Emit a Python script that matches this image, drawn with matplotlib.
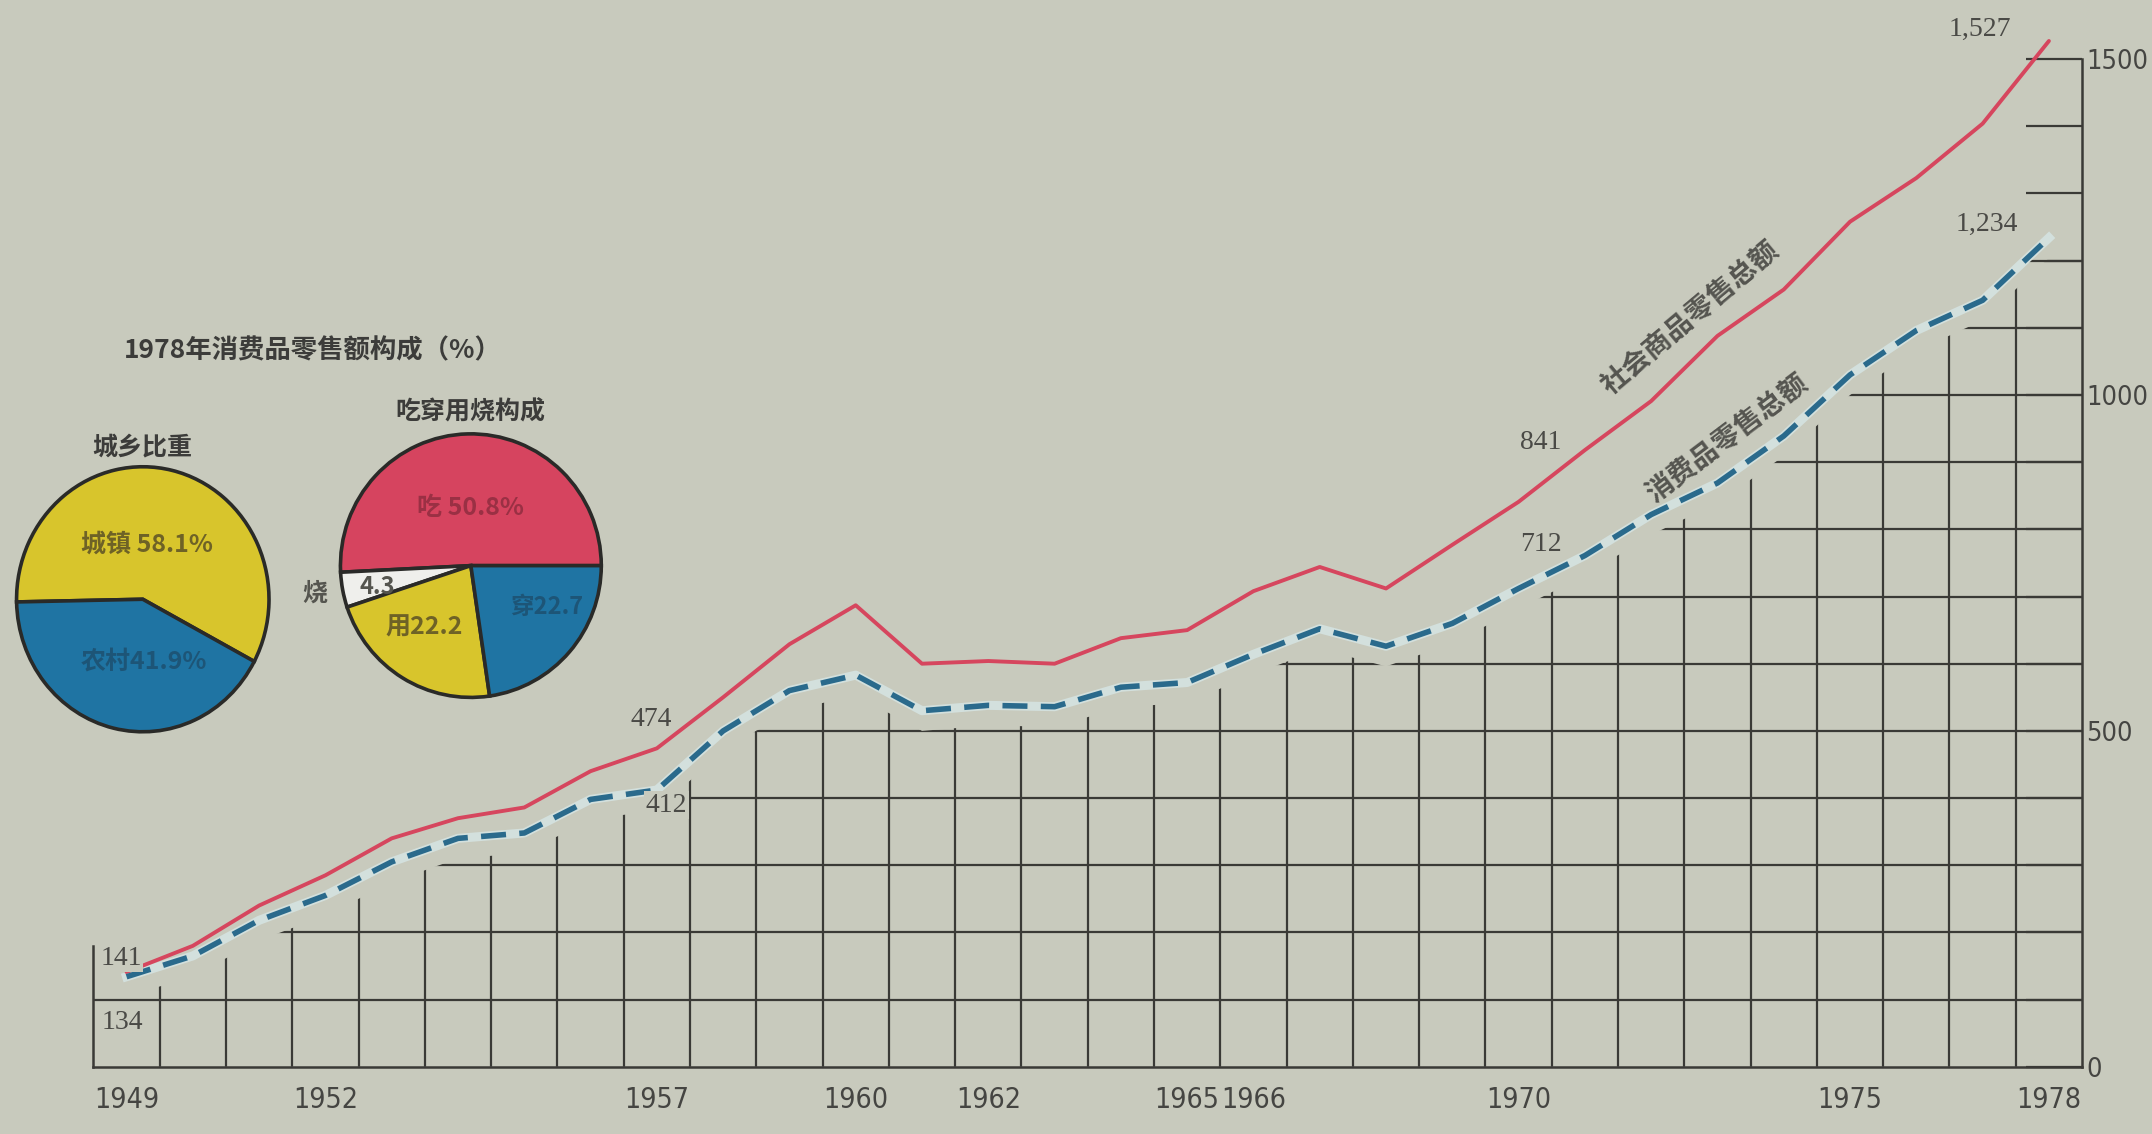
import numpy as np
import matplotlib
matplotlib.use('Agg')
import matplotlib.pyplot as plt
from matplotlib.patches import Polygon

# retail sales, 1949-1978 (100 million yuan)
years = np.arange(1949, 1979)
total_retail = np.array([141, 180, 240, 285, 340, 370, 386, 440, 474, 550,
                         629, 687, 600, 604, 600, 638, 650, 708, 744, 712,
                         777, 841, 918, 991, 1088, 1157, 1258, 1323, 1404, 1527])
consumer_retail = np.array([134, 165, 218, 255, 305, 340, 348, 398, 412, 500,
                            560, 583, 530, 538, 536, 565, 572, 614, 652, 626,
                            660, 712, 761, 822, 869, 939, 1030, 1096, 1141, 1234])

year_labels = [1949, 1952, 1957, 1960, 1962, 1965, 1966, 1970, 1975, 1978]
value_labels = [0, 500, 1000, 1500]

marked_years = [1949, 1957, 1970, 1978]
total_marks = ['141', '474', '841', '1,527']
consumer_marks = ['134', '412', '712', '1,234']

# 1978 structure (%)
city_names = ['城镇', '农村']
city_share = [58.1, 41.9]
use_names = ['吃', '烧', '用', '穿']
use_share = [50.8, 4.3, 22.2, 22.7]

BG = '#c8cabd'
INK = '#3a3a36'
RED = '#d6465e'
BLUE = '#2a6a8c'
CJK = ['Noto Sans CJK SC', 'DejaVu Sans']
NUM = ['DejaVu Sans']
SERIF = ['Liberation Serif', 'DejaVu Serif']

fig = plt.figure(figsize=(21.52, 11.34), dpi=100, facecolor=BG)
ax = fig.add_axes([0.0434, 0.0593, 0.9241, 0.9241])
ax.set_facecolor('none')
ax.set_xlim(1948.5, 1978.5)
ax.set_ylim(0, 1560)

# grid only below the consumer-goods curve
gap = 30
clip_x = np.concatenate([[1948.5], years, [1978.5, 1978.5, 1948.5]])
clip_y = np.concatenate([[consumer_retail[0] - gap], consumer_retail - gap,
                         [consumer_retail[-1] - gap, 0, 0]])
clip = Polygon(np.column_stack([clip_x, clip_y]), closed=True, transform=ax.transData)
vl = ax.vlines(years[1:] - 0.5, 0, 1500, color=INK, lw=1.6, zorder=1)
vl.set_clip_path(clip)
hl = ax.hlines(np.arange(100, 1500, 100), 1948.5, 1978.5, color=INK, lw=1.6, zorder=1)
hl.set_clip_path(clip)

# lines
ax.plot(years, total_retail, color=RED, lw=2.8, zorder=4, solid_capstyle='round')
ax.plot(years, consumer_retail, color='#d3e0dd', lw=6.5, zorder=3)
ax.plot(years, consumer_retail, color=BLUE, lw=4, dashes=(4.5, 2.4), zorder=4)

# spines and ticks
ax.spines['top'].set_visible(False)
ax.spines['left'].set_bounds(0, 180)
ax.spines['right'].set_bounds(0, 1500)
for s in ['left', 'right', 'bottom']:
    ax.spines[s].set_color(INK)
    ax.spines[s].set_linewidth(1.8)

ax.yaxis.tick_right()
ax.set_yticks(np.arange(0, 1501, 100))
ax.set_yticklabels([str(v) if v in value_labels else '' for v in range(0, 1501, 100)])
ax.tick_params(axis='y', direction='in', length=40, width=1.6, color=INK, pad=3,
               labelsize=19.5, labelcolor='#454542')
ax.set_xticks(year_labels)
ax.set_xticklabels([str(y) for y in year_labels])
ax.tick_params(axis='x', length=0, pad=14, labelsize=20.5, labelcolor='#454542')
for lab in ax.get_xticklabels() + ax.get_yticklabels():
    lab.set_family(NUM)
    lab.set_stretch('condensed')

# value marks
total_off = [(-4, 10), (-4, 21), (16, 43), (-50, 8)]
consumer_off = [(-3, -33), (7, -11), (16, 32), (-45, 10)]
for yr, t, c, to, co in zip(marked_years, total_marks, consumer_marks, total_off, consumer_off):
    i = yr - years[0]
    ax.annotate(t, (yr, total_retail[i]), xytext=to, textcoords='offset points',
                ha='center', va='center', fontsize=20, family=SERIF, color='#4a4a46',
                bbox=dict(boxstyle='square,pad=0.05', fc=BG, ec='none'), zorder=5)
    ax.annotate(c, (yr, consumer_retail[i]), xytext=co, textcoords='offset points',
                ha='center', va='center', fontsize=20, family=SERIF, color='#4a4a46',
                bbox=dict(boxstyle='square,pad=0.05', fc=BG, ec='none'), zorder=5)

# series names along the lines
ax.text(1972.6, 1114, '社会商品零售总额', rotation=40, ha='center', va='center',
        fontsize=20, family=CJK, fontweight='bold', color='#555550')
ax.text(1973.15, 934, '消费品零售总额', rotation=37, ha='center', va='center',
        fontsize=20, family=CJK, fontweight='bold', color='#555550')

# pies
fig.text(0.1454, 0.691, '1978年消费品零售额构成（%）', ha='center', va='center',
         fontsize=19, family=CJK, fontweight='bold', color='#3c3c3a')
fig.text(0.0663, 0.6053, '城乡比重', ha='center', va='center',
         fontsize=18, family=CJK, fontweight='bold', color='#3c3c3a')
fig.text(0.2187, 0.6368, '吃穿用烧构成', ha='center', va='center',
         fontsize=18, family=CJK, fontweight='bold', color='#3c3c3a')

pa = fig.add_axes([0.0077, 0.3547, 0.1173, 0.2337])
w, _ = pa.pie(city_share, colors=['#d8c52c', '#1f74a3'], startangle=-28,
              wedgeprops=dict(edgecolor='#2a2a28', linewidth=2.6))
pa.set_aspect('auto')
pa.set_xlim(-1, 1)
pa.set_ylim(-1, 1)
for p in w:
    p.set_clip_on(False)
pa.text(0.03, 0.41, f'{city_names[0]} {city_share[0]}%', ha='center', va='center',
        fontsize=18, family=CJK, fontweight='bold', color='#6e6226')
pa.text(0.01, -0.47, f'{city_names[1]}{city_share[1]}%', ha='center', va='center',
        fontsize=18, family=CJK, fontweight='bold', color='#1d5577')

pb = fig.add_axes([0.1582, 0.385, 0.1212, 0.2324])
w, _ = pb.pie(use_share, colors=['#d6445f', '#efefec', '#d8c52c', '#1f74a3'],
              startangle=0, wedgeprops=dict(edgecolor='#2a2a28', linewidth=2.6))
pb.set_aspect('auto')
pb.set_xlim(-1, 1)
pb.set_ylim(-1, 1)
for p in w:
    p.set_clip_on(False)
pb.text(0.0, 0.44, f'{use_names[0]} {use_share[0]}%', ha='center', va='center',
        fontsize=18, family=CJK, fontweight='bold', color='#9a3044')
pb.text(-0.72, -0.16, f'{use_share[1]}', ha='center', va='center',
        fontsize=17, family=CJK, fontweight='bold', color='#55554f')
pb.text(-1.2, -0.21, use_names[1], ha='center', va='center',
        fontsize=18, family=CJK, fontweight='bold', color='#55554f')
pb.text(-0.36, -0.47, f'{use_names[2]}{use_share[2]}', ha='center', va='center',
        fontsize=18, family=CJK, fontweight='bold', color='#6e6226')
pb.text(0.58, -0.31, f'{use_names[3]}{use_share[3]}', ha='center', va='center',
        fontsize=17, family=CJK, fontweight='bold', color='#1d5577')

fig.savefig('out.png', dpi=100, facecolor=BG)
